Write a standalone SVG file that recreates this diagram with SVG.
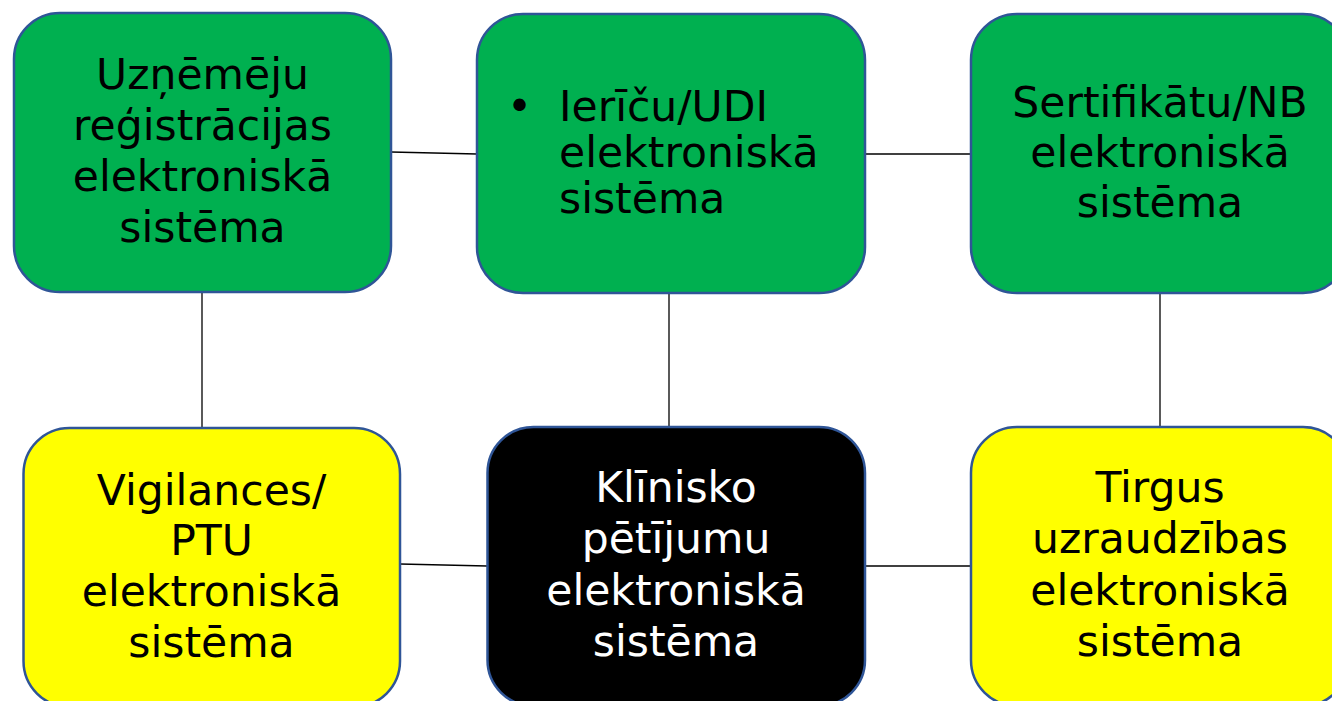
<svg xmlns="http://www.w3.org/2000/svg" width="1332" height="701" viewBox="0 0 1332 701">
<style>
.box{stroke:#2F5597;stroke-width:2.5}
.g{fill:#00B050}
.y{fill:#FFFF00}
.k{fill:#000000}
.t{font-family:"DejaVu Sans","Verdana",sans-serif;font-size:42.5px;fill:#000;text-anchor:middle}
.w{fill:#FFFFFF}
.l{text-anchor:start}
.c{stroke:#000;stroke-width:1.3;fill:none}
</style>
<rect width="1332" height="701" fill="#FFFFFF"/>
<g id="connectors">
<line class="c" x1="391" y1="152" x2="477" y2="154"/>
<line class="c" x1="865" y1="154" x2="971" y2="154"/>
<line class="c" x1="202" y1="292" x2="202" y2="428"/>
<line class="c" x1="669" y1="293" x2="669" y2="427"/>
<line class="c" x1="1160" y1="293" x2="1160" y2="427"/>
<line class="c" x1="400" y1="564" x2="487" y2="566"/>
<line class="c" x1="865" y1="566" x2="971" y2="566"/>
</g>
<g id="node-uznemeju">
<rect class="box g" x="14" y="13" width="377" height="279" rx="46"/>
<text class="t" x="202.5"><tspan x="202.5" y="89">Uzņēmēju</tspan><tspan x="202.5" y="140">reģistrācijas</tspan><tspan x="202.5" y="191">elektroniskā</tspan><tspan x="202.5" y="242">sistēma</tspan></text>
</g>
<g id="node-ierice">
<rect class="box g" x="477" y="14" width="388" height="279" rx="46"/>
<text class="t l" x="507" y="121">•</text>
<text class="t l" x="559"><tspan x="559" y="121">Ierīču/UDI</tspan><tspan x="559" y="167">elektroniskā</tspan><tspan x="559" y="213">sistēma</tspan></text>
</g>
<g id="node-sertifikatu">
<rect class="box g" x="971" y="14" width="378" height="279" rx="46"/>
<text class="t" x="1160"><tspan x="1160" y="117">Sertifikātu/NB</tspan><tspan x="1160" y="167">elektroniskā</tspan><tspan x="1160" y="217">sistēma</tspan></text>
</g>
<g id="node-vigilances">
<rect class="box y" x="23.5" y="428" width="376.5" height="279" rx="46"/>
<text class="t" x="211.5"><tspan x="211.5" y="505">Vigilances/</tspan><tspan x="211.5" y="555">PTU</tspan><tspan x="211.5" y="606">elektroniskā</tspan><tspan x="211.5" y="657">sistēma</tspan></text>
</g>
<g id="node-kliniskie">
<rect class="box k" x="487.5" y="427" width="377.5" height="279" rx="46"/>
<text class="t w" x="676"><tspan x="676" y="502">Klīnisko</tspan><tspan x="676" y="553">pētījumu</tspan><tspan x="676" y="605">elektroniskā</tspan><tspan x="676" y="656">sistēma</tspan></text>
</g>
<g id="node-tirgus">
<rect class="box y" x="971" y="427" width="378" height="279" rx="46"/>
<text class="t" x="1160"><tspan x="1160" y="502">Tirgus</tspan><tspan x="1160" y="553">uzraudzības</tspan><tspan x="1160" y="605">elektroniskā</tspan><tspan x="1160" y="656">sistēma</tspan></text>
</g>
</svg>
